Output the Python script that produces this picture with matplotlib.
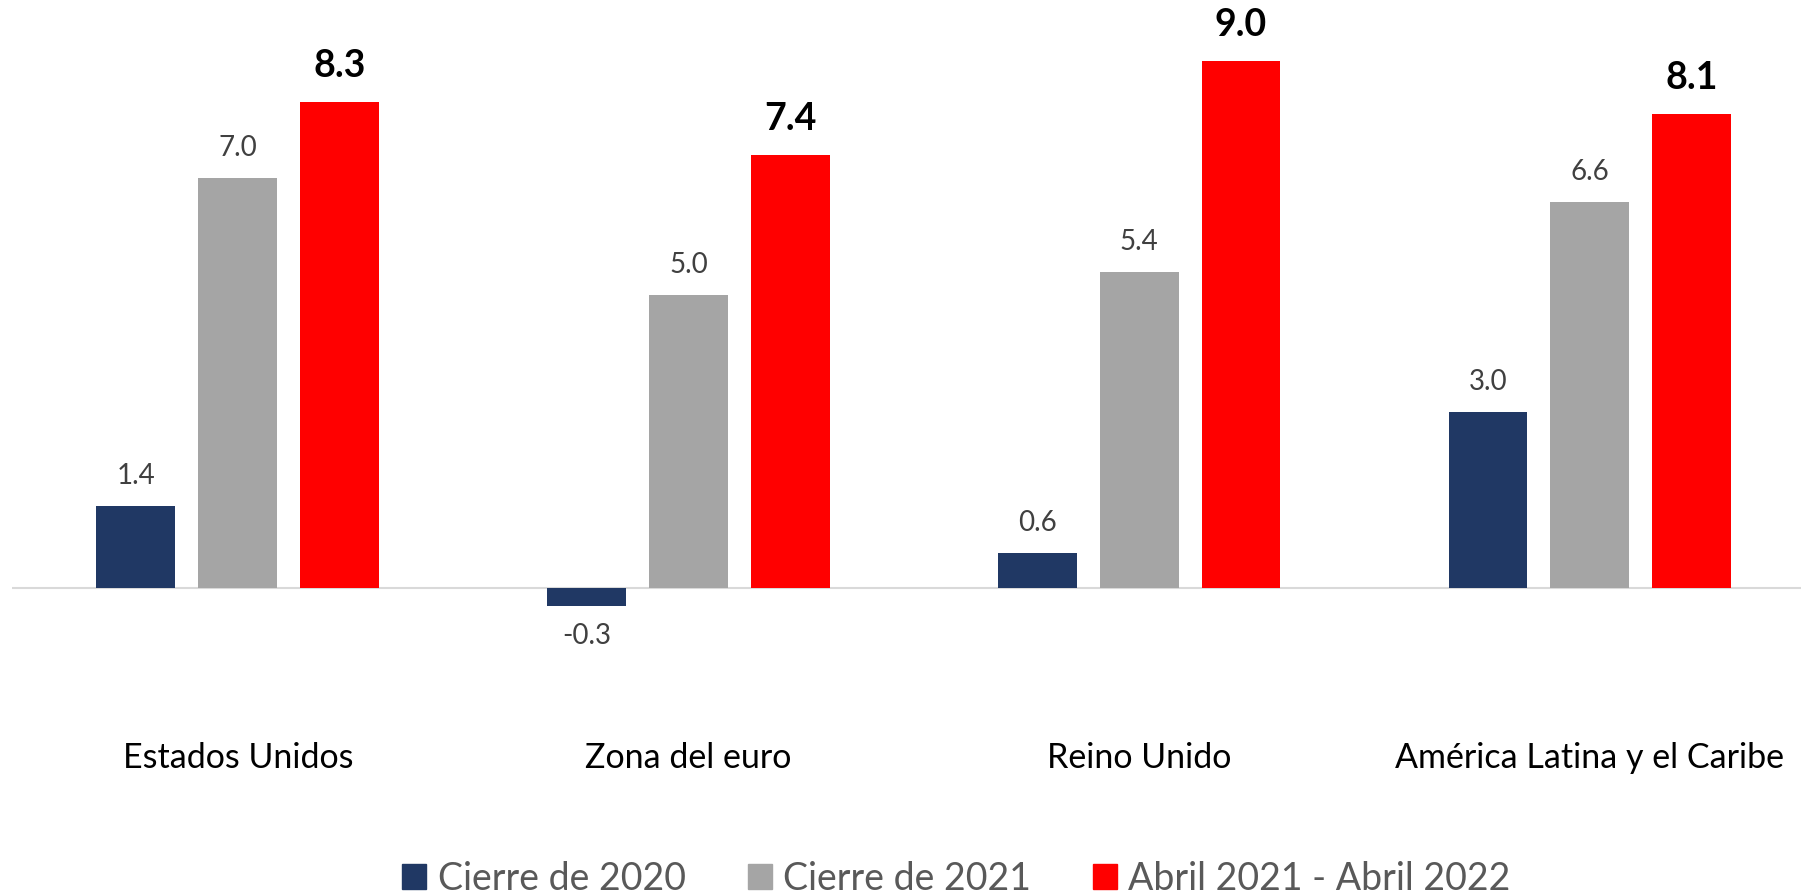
import numpy as np
import matplotlib.pyplot as plt
from matplotlib.patches import Patch

# Data
regions = ['Estados Unidos', 'Zona del euro', 'Reino Unido', 'América Latina y el Caribe']
series = ['Cierre de 2020', 'Cierre de 2021', 'Abril 2021 - Abril 2022']
cierre_2020 = [1.4, -0.3, 0.6, 3.0]
cierre_2021 = [7.0, 5.0, 5.4, 6.6]
abril_2022 = [8.3, 7.4, 9.0, 8.1]

colors = ['#203864', '#A5A5A5', '#FF0000']

plt.rcParams['font.family'] = ['Lato', 'DejaVu Sans']

fig = plt.figure(figsize=(18.01, 8.94), dpi=100)
ax = fig.add_axes([0.0069, 0.217, 1.001, 0.783])

x = np.arange(len(regions))
width = 0.175
step = 0.226

values = [cierre_2020, cierre_2021, abril_2022]
for i, vals in enumerate(values):
    pos = x + (i - 1) * step
    ax.bar(pos, vals, width, color=colors[i], label=series[i], zorder=2)
    for xp, v in zip(pos, vals):
        if i == 2:
            ax.annotate(f'{v:.1f}', (xp, v), xytext=(0, 36), textcoords='offset pixels',
                        ha='center', va='center', fontsize=27, fontweight='bold', color='black')
        else:
            off = 30 if v >= 0 else -30
            ax.annotate(f'{v:.1f}', (xp, v), xytext=(0, off), textcoords='offset pixels',
                        ha='center', va='center', fontsize=20, color='#404040')

ax.axhline(0, color='#D9D9D9', linewidth=1.5, zorder=1)
ax.set_xlim(-0.5, 3.5)
ax.set_ylim(-1.915, 10.05)
ax.set_xticks(x)
ax.set_xticklabels(regions, fontsize=24.5, color='black')
ax.tick_params(axis='x', length=0, pad=30)
ax.set_yticks([])
for s in ax.spines.values():
    s.set_visible(False)

handles = [Patch(color=c) for c in colors]
fig.legend(handles, series, loc='center', bbox_to_anchor=(0.531, 0.017), ncol=3,
           frameon=False, fontsize=27, labelcolor='#595959', handlelength=0.64,
           handleheight=0.64, handletextpad=0.3, columnspacing=1.65)

fig.savefig('out.png', dpi=100)
